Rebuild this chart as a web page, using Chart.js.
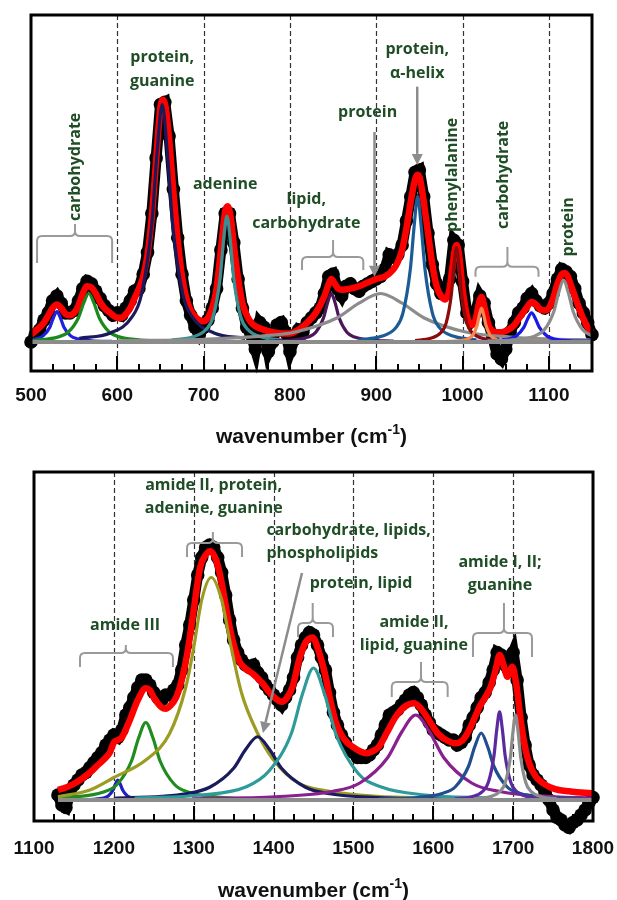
<!DOCTYPE html>
<html><head><meta charset="utf-8">
<script src="https://cdn.jsdelivr.net/npm/chart.js@4/dist/chart.umd.min.js"></script>
<style>
html,body{margin:0;padding:0;background:#fff;}
#wrap{position:relative;width:617px;height:900px;overflow:hidden;}
.box{position:absolute;left:0;width:617px;height:450px;}
</style></head><body>
<div id="wrap">
<div class="box" style="top:0"><canvas id="c1" width="617" height="450"></canvas></div>
<div class="box" style="top:450px"><canvas id="c2" width="617" height="450"></canvas></div>
</div>
<script>
// ---------------- TOP PANEL DATA ----------------
const topRawWN = [500,505,510,515,520,525,530,535,540,545,550,555,560,565,570,575,580,585,590,595,600,605,610,615,620,625,630,635,640,645,650,655,660,665,670,675,680,685,690,695,700,705,710,715,720,725,730,735,740,745,750,755,760,765,770,775,780,785,790,795,800,805,810,815,820,825,830,835,840,845,850,855,860,865,870,875,880,885,890,895,900,905,910,915,920,925,930,935,940,945,950,955,960,965,970,975,980,985,990,995,1000,1005,1010,1015,1020,1025,1030,1035,1040,1045,1050,1055,1060,1065,1070,1075,1080,1085,1090,1095,1100,1105,1110,1115,1120,1125,1130,1135,1140,1145,1150];
const topRaw = [0,3,5,9,12,17,19,16,12,12,
 13,17,22,25,24,21,18,15,13,11,
 12,11,14,17,21,22,28,37,53,76,
 98,99,85,63,43,28,17,11,6,3,
 6,9,14,22,38,53,53,41,26,14,
 6,3,-3,8,6,-4,0,7,8,4,
 -4,1,5,4,8,10,12,14,20,27,
 28,22,19,23,24,22,21,23,24,25,
 26,27,30,36,35,36,40,50,60,70,
 71,60,45,32,24,20,20,26,42,40,
 25,12,9,12,19,16,8,2,-5,-7,
 -3,4,8,12,14,18,20,17,15,14,
 16,20,26,30,29,27,22,16,12,8,
 3];
const topFitWN = [500,505,510,515,520,525,530,535,540,545,550,555,560,565,570,575,580,585,590,595,600,605,610,615,620,625,630,635,640,645,650,653,656,660,665,670,675,680,685,690,695,700,705,710,715,720,725,728,732,735,740,745,750,755,760,770,780,790,800,810,820,830,840,845,848,852,856,860,870,880,890,900,910,920,925,930,935,940,945,948,951,955,960,965,970,975,980,985,988,991,993,996,1000,1005,1010,1015,1019,1022,1025,1030,1035,1040,1045,1050,1055,1060,1065,1070,1075,1080,1085,1090,1095,1100,1105,1110,1115,1118,1122,1125,1130,1135,1140,1145,1150];
const topFit = [3,4.5,6,8,11,14,15.5,14,11.5,11,
 12,15,20,23,22.5,20,16.5,14,12.5,11,
 10,10,11.5,14,18,22,27,36,52,75,
 97,100,97,84,62,42,27,18,13,10.5,
 9,8.5,10,14,22,38,54,56,50,40,
 26,16,11,8,6.5,5,4,3.5,3.5,5,
 8,12,19,24,26,24,22,21.5,22,23,
 24.5,26,27,30,33,38,47,58,67,69,
 67,58,45,32,23,19,17.5,22,30,38,
 40,36,22,11,7,9,16,18.6,15,7,
 4.5,4,4,4.5,5.5,7,9.5,12,14.5,16.5,
 15.5,13.5,13,14,18,24,28,28.5,27,24,
 19,14,9.5,6,4];
const topBaseWN = [500,1150];
const topBase = [0,0];
// component bands (top)
const tB530WN = [500,506,514,522,526,530,534,538,546,554,570,594];
const tB530 = [0.8,1.3,2.5,6.2,10,12.5,10,6.2,2.5,1.3,0.5,0.2];
const tG567WN = [500,507,531,543,555,561,567,573,579,591,603,627,663];
const tG567 = [0.6,0.8,2,4,10,16,20,16,10,4,2,0.8,0.3];
const tN652WN = [556,592,616,628,640,646,652,658,664,676,688,712,748];
const tN652 = [1.5,3.7,9.8,19.6,49,78,98,78,49,19.6,9.8,3.7,1.5];
const tT727WN = [663,687,703,711,719,723,727,731,735,743,751,767,791];
const tT727 = [0.8,2,5.2,10.4,26,41.6,52,41.6,26,10.4,5.2,2,0.8];
const tP848WN = [776,803,821,830,839,843.5,848,852.5,857,866,875,893,920];
const tP848 = [0.3,0.8,2,4,10,16,20,16,10,4,2,0.8,0.3];
const tY905WN = [600,700,780,805,855,880,905,930,955,1005,1055,1100,1150];
const tY905 = [0.5,1.1,2.8,4,10,16,20,16,10,4,2,1.2,0.8];
const tS948WN = [880,906,923,931,939.5,944,948,952,956.5,965,973,990,1016];
const tS948 = [0.9,2.3,6,12,30,48,60,48,30,12,6,2.3,0.9];
const tR993WN = [945,963,975,981,987,990,993,996,999,1005,1011,1023,1041];
const tR993 = [0.6,1.5,3.9,7.8,19.5,31,39,31,19.5,7.8,3.9,1.5,0.6];
const tO1022WN = [982,997,1007,1012,1017,1019.5,1022,1024.5,1027,1032,1037,1047,1100];
const tO1022 = [0.2,0.5,1.4,2.8,7,11.2,14,11.2,7,2.8,1.4,0.5,0.2];
const tB1080WN = [1008,1035,1053,1062,1071,1075.5,1080,1084.5,1089,1098,1107,1125,1150];
const tB1080 = [0.2,0.5,1.2,2.4,6,9.6,12,9.6,6,2.4,1.2,0.5,0.3];
const tY1117WN = [1029,1062,1084,1095,1106,1111.5,1117,1122.5,1128,1139,1150];
const tY1117 = [0.4,1,2.5,5.1,12.8,20.4,25.5,20.4,12.8,5.1,2.5];

// ---------------- BOTTOM PANEL DATA ----------------
const botRawWN = [1130,1135,1140,1145,1150,1155,1160,1165,1170,1175,1180,1185,1190,1195,1200,1205,1210,1215,1220,1225,1230,1235,1240,1245,1250,1255,1260,1265,1270,1275,1280,1285,1290,1295,1300,1305,1310,1315,1320,1325,1330,1335,1340,1345,1350,1355,1360,1365,1370,1375,1380,1385,1390,1395,1400,1405,1410,1415,1420,1425,1430,1435,1440,1445,1450,1455,1460,1465,1470,1475,1480,1485,1490,1495,1500,1505,1510,1515,1520,1525,1530,1535,1540,1545,1550,1555,1560,1565,1570,1575,1580,1585,1590,1595,1600,1605,1610,1615,1620,1625,1630,1635,1640,1645,1650,1655,1660,1665,1670,1675,1680,1685,1690,1695,1700,1705,1710,1715,1720,1725,1730,1735,1740,1745,1750,1755,1760,1765,1770,1775,1780,1785,1790,1795,1800];
const botRaw = [2,-2,-3,3,6,8,10,11,13,15,
 17,19,22,24,26,25,28,34,37,41,
 45,48,48,46,43,41,40,42,42,44,
 46,52,62,70,80,90,97,101,102,101,
 97,91,82,72,64,59,56,54,53,54,
 51,49,46,44,42,40,38,41,44,49,
 57,62,65,67,66,62,57,52,43,35,
 30,26,23,20,19,17,17,17,18,20,
 22,26,30,34,35,36,38,40,42,43,
 41,38,34,31,28,27,26,25,24,24,
 22,23,25,30,33,37,41,43,47,52,
 59,58,54,55,59,48,33,22,14,10,
 8,6,3,0,-4,-7,-8,-10,-11,-9,
 -8,-6,-4,-1,1];
const botFitWN = [1130,1140,1150,1160,1170,1180,1190,1195,1200,1205,1210,1220,1230,1240,1245,1250,1260,1265,1270,1278,1285,1292,1300,1308,1315,1321,1328,1333,1340,1345,1352,1358,1365,1374,1386,1395,1401,1410,1417,1424,1432,1440,1449,1456,1464,1471,1478,1485,1492,1499,1508,1516,1524,1532,1542,1553,1565,1576,1586,1597,1606,1616,1628,1637,1645,1652,1658,1665,1672,1678,1683,1688,1693,1699,1704,1710,1715,1720,1728,1737,1747,1757,1770,1785,1800];
const botFit = [4,5,6.5,8.5,11,14,17,19,23,24,
 25,32,40,44.7,44,41,37,36.5,37.5,41,
 48,58.7,76,93,98,99.5,96,90,78,69,
 60,55,52.5,50.5,46.7,43,41,39.3,41,45.5,
 56,63,65,60,51,40,31,26,23,21.3,
 19.5,18.7,19.5,21.3,27,33.3,37.5,38.7,36,30.7,
 26.5,24,22.7,24,28,33,37.3,41,45.3,52,
 58,54,49.3,53.3,46,30.7,21,14.7,9.5,6.8,
 5,4,3.5,3,2.7];
const botBaseWN = [1130,1800];
const botBase = [0,0];
const bB1205WN = [1157,1175,1187,1193,1199,1202,1205,1208,1211,1217,1223,1235,1253];
const bB1205 = [0.1,0.3,0.8,1.6,4,6.4,8,6.4,4,1.6,0.8,0.3,0.1];
const bG1240WN = [1130,1150,1186,1204,1222,1231,1240,1249,1258,1276,1294,1330,1384];
const bG1240 = [0.8,1.2,3.1,6.2,15.5,24.8,31,24.8,15.5,6.2,3.1,1.2,0.5];
const bO1322WN = [1130,1170,1200,1240,1270,1290,1300,1310,1322,1335,1345,1360,1380,1400,1430,1470,1530,1600];
const bO1322 = [1.3,4,9,16,26.7,45,61,80,89,80,64,42.7,26.7,16,7,3.5,1.5,0.8];
const bN1380WN = [1200,1260,1290,1320,1350,1365,1380,1395,1410,1440,1470,1530,1620];
const bN1380 = [0.7,1.5,2.5,5.1,12.7,20.2,25.3,20.2,12.7,5.1,2.5,1,0.4];
const bT1450WN = [1226,1310,1366,1394,1422,1436,1450,1464,1478,1506,1534,1590,1674];
const bT1450 = [0.8,2,5.3,11.5,26.4,42.2,52.8,42.2,26.4,10.6,5.3,2,0.8];
const bP1578WN = [1298,1403,1473,1508,1543,1560.5,1578,1595.5,1613,1648,1683,1753,1800];
const bP1578 = [0.5,1.3,3.4,6.8,17,27.2,34,27.2,17,6.8,3.4,1.3,0.8];
const bS1660WN = [1532,1580,1612,1628,1644,1652,1660,1668,1676,1692,1708,1740,1788];
const bS1660 = [0.4,1,2.7,5.4,13.4,21.4,26.8,21.4,13.4,5.4,2.7,1,0.4];
const bI1683WN = [1627,1648,1662,1669,1676,1679.5,1683,1686.5,1690,1697,1704,1718,1739];
const bI1683 = [0.5,1.3,3.5,7.1,17.7,28.2,35.3,28.2,17.7,7.1,3.5,1.3,0.5];
const bY1703WN = [1651,1670.5,1683.5,1690,1696.5,1699.75,1703,1706.25,1709.5,1716,1722.5,1735.5,1755];
const bY1703 = [0.5,1.3,3.4,6.8,17,27.2,34,27.2,17,6.8,3.4,1.3,0.5];

// ---------------- helpers ----------------
const pts = (xs, ys) => xs.map((x, i) => ({x, y: ys[i]}));
const comp = (xs, ys, color) => ({data: pts(xs, ys), borderColor: color, borderWidth: 3.2, pointRadius: 0,
  cubicInterpolationMode: 'monotone', fill: false, clip: false});
const GREEN_TXT = '#1f4d25';
const TXT_FONT = 'bold 16px "Open Sans"';

function decorPlugin(cfg) {
  return {
    id: 'decor',
    beforeDatasetsDraw(chart) {
      const {ctx, chartArea: a, scales: {x}} = chart;
      ctx.save();
      ctx.strokeStyle = '#333'; ctx.lineWidth = 1.2; ctx.setLineDash([5, 3]);
      cfg.dashed.forEach(v => {
        const px = Math.round(x.getPixelForValue(v)) + 0.5;
        ctx.beginPath(); ctx.moveTo(px, a.top); ctx.lineTo(px, a.bottom); ctx.stroke();
      });
      ctx.restore();
    },
    afterDatasetsDraw(chart) {
      const {ctx, chartArea: a, scales: {x, y}} = chart;
      ctx.save();
      // inner tick marks
      ctx.strokeStyle = '#000'; ctx.lineWidth = 2;
      x.ticks.forEach(t => {
        const px = Math.round(x.getPixelForValue(t.value));
        const len = (t.value % 100 === 0) ? 15 : 7;
        ctx.beginPath(); ctx.moveTo(px, a.bottom); ctx.lineTo(px, a.bottom - len); ctx.stroke();
      });
      // frame
      ctx.lineWidth = 3; ctx.strokeStyle = '#000';
      ctx.strokeRect(a.left, a.top, a.right - a.left, a.bottom - a.top);
      // brackets
      ctx.strokeStyle = '#9a9a9a'; ctx.lineWidth = 2; ctx.lineJoin = 'round';
      cfg.brackets.forEach(b => {
        const x1 = x.getPixelForValue(b[0]), x2 = x.getPixelForValue(b[1]), xm = x.getPixelForValue(b[2]);
        const yh = y.getPixelForValue(b[3]), ye = y.getPixelForValue(b[4]), yt = y.getPixelForValue(b[5]);
        const r = 5;
        ctx.beginPath();
        ctx.moveTo(x1, ye); ctx.lineTo(x1, yh + r); ctx.quadraticCurveTo(x1, yh, x1 + r, yh);
        ctx.lineTo(xm - r, yh); ctx.quadraticCurveTo(xm, yh, xm, yh - r); ctx.lineTo(xm, yt);
        ctx.moveTo(xm, yh - r); ctx.quadraticCurveTo(xm, yh, xm + r, yh);
        ctx.lineTo(x2 - r, yh); ctx.quadraticCurveTo(x2, yh, x2, yh + r); ctx.lineTo(x2, ye);
        ctx.stroke();
      });
      // arrows
      ctx.strokeStyle = '#8c8c8c'; ctx.fillStyle = '#8c8c8c'; ctx.lineWidth = 2.5;
      cfg.arrows.forEach(ar => {
        const x1 = x.getPixelForValue(ar[0]), y1 = y.getPixelForValue(ar[1]);
        const x2 = x.getPixelForValue(ar[2]), y2 = y.getPixelForValue(ar[3]);
        const ang = Math.atan2(y2 - y1, x2 - x1), hl = 11, hw = 5.5;
        const bx = x2 - hl * Math.cos(ang), by = y2 - hl * Math.sin(ang);
        ctx.beginPath(); ctx.moveTo(x1, y1); ctx.lineTo(bx, by); ctx.stroke();
        ctx.beginPath(); ctx.moveTo(x2, y2);
        ctx.lineTo(bx + hw * Math.sin(ang), by - hw * Math.cos(ang));
        ctx.lineTo(bx - hw * Math.sin(ang), by + hw * Math.cos(ang));
        ctx.closePath(); ctx.fill();
      });
      // labels
      ctx.fillStyle = GREEN_TXT; ctx.font = TXT_FONT; ctx.textBaseline = 'middle';
      cfg.labels.forEach(l => {
        const px = x.getPixelForValue(l.x), py = y.getPixelForValue(l.y);
        const lines = l.t.split('\n');
        ctx.save();
        ctx.translate(px, py);
        if (l.rot) ctx.rotate(-Math.PI / 2);
        ctx.textAlign = l.align || 'center';
        lines.forEach((s, i) => ctx.fillText(s, 0, i * 23.5));
        ctx.restore();
      });
      ctx.restore();
    },
    afterDraw(chart) {
      const {ctx, chartArea: a} = chart;
      ctx.save();
      ctx.fillStyle = '#111'; ctx.textBaseline = 'alphabetic'; ctx.textAlign = 'left';
      const main = 'wavenumber (cm', sup = '-1', end = ')';
      const fMain = 'bold 21px "Liberation Sans"', fSup = 'bold 14px "Liberation Sans"';
      ctx.font = fMain; const w1 = ctx.measureText(main).width, w3 = ctx.measureText(end).width;
      ctx.font = fSup; const w2 = ctx.measureText(sup).width;
      let sx = (a.left + a.right) / 2 - (w1 + w2 + w3) / 2;
      const by = cfg.titleY;
      ctx.font = fMain; ctx.fillText(main, sx, by); sx += w1;
      ctx.font = fSup; ctx.fillText(sup, sx, by - 9); sx += w2;
      ctx.font = fMain; ctx.fillText(end, sx, by);
      ctx.restore();
    }
  };
}

function makeChart(id, xmin, xmax, ymin, ymax, pad, tickPad, datasets, cfg) {
  return new Chart(document.getElementById(id), {
    type: 'line',
    data: {datasets},
    options: {
      responsive: false, animation: false, events: [],
      layout: {padding: pad},
      plugins: {legend: {display: false}, tooltip: {enabled: false}},
      scales: {
        x: {type: 'linear', min: xmin, max: xmax,
          afterFit: s => { s.height = 79; s.paddingLeft = 0; s.paddingRight = 0; },
          grid: {display: false, drawTicks: false}, border: {display: false},
          ticks: {stepSize: 25, autoSkip: false, maxRotation: 0, padding: tickPad, color: '#111',
            font: {family: '"Liberation Sans", Arial', size: 19, weight: 'bold'},
            callback: v => (v % 100 === 0 ? String(v) : '')}},
        y: {display: false, min: ymin, max: ymax}
      }
    },
    plugins: [decorPlugin(cfg)]
  });
}

const raw = (xs, ys) => ({data: pts(xs, ys), borderColor: '#000', borderWidth: 11, pointRadius: 6.8,
  pointBackgroundColor: '#000', pointBorderWidth: 0, tension: 0, clip: false, fill: false});
const fit = (xs, ys) => ({data: pts(xs, ys), borderColor: '#ff0000', borderWidth: 6.5, pointRadius: 0,
  cubicInterpolationMode: 'monotone', clip: false, fill: false});
const base = (xs, ys) => ({data: pts(xs, ys), borderColor: '#8c8c8c', borderWidth: 4, pointRadius: 0, clip: false});

// ---- top chart ----
makeChart('c1', 500, 1150, -12, 135, {left: 31, right: 25, top: 15, bottom: 0}, 13, [
  base(topBaseWN, topBase),
  comp(tY1117WN, tY1117, '#8c8c8c'),
  comp(tB1080WN, tB1080, '#1a1ae6'),
  comp(tO1022WN, tO1022, '#f5874f'),
  comp(tR993WN, tR993, '#8b0a0a'),
  comp(tS948WN, tS948, '#1c5c96'),
  comp(tY905WN, tY905, '#8c8c8c'),
  comp(tP848WN, tP848, '#4a1858'),
  comp(tT727WN, tT727, '#3a9090'),
  comp(tN652WN, tN652, '#1a1a5a'),
  comp(tG567WN, tG567, '#1a8a1a'),
  comp(tB530WN, tB530, '#2020e0'),
  fit(topFitWN, topFit),
  raw(topRawWN, topRaw)
], {
  titleY: 443,
  dashed: [600, 700, 800, 900, 1000, 1100],
  brackets: [[507, 594, 551, 43.7, 32.6, 48.7], [814, 885, 850, 35.1, 29.7, 42.1], [1015, 1088, 1052, 31, 26.9, 39.2]],
  arrows: [[898, 86.7, 898, 26.9], [947.5, 105.4, 947.5, 73.1]],
  labels: [
    {t: 'carbohydrate', x: 551, y: 72.3, rot: true},
    {t: 'protein,\nguanine', x: 652, y: 117.4},
    {t: 'adenine', x: 725, y: 64.9},
    {t: 'lipid,\ncarbohydrate', x: 819, y: 58.7},
    {t: 'protein', x: 890, y: 94.6},
    {t: 'protein,\nα-helix', x: 947.5, y: 120.7},
    {t: 'phenylalanine', x: 988, y: 69, rot: true},
    {t: 'carbohydrate', x: 1047, y: 69, rot: true},
    {t: 'protein', x: 1122.6, y: 47.5, rot: true}
  ]
});

// ---- bottom chart ----
makeChart('c2', 1100, 1800, -8.4, 131.2, {left: 34, right: 24, top: 22, bottom: 0}, 16, [
  base(botBaseWN, botBase),
  comp(bY1703WN, bY1703, '#8c8c8c'),
  comp(bI1683WN, bI1683, '#5b2a9e'),
  comp(bS1660WN, bS1660, '#1f4f8f'),
  comp(bP1578WN, bP1578, '#8a1f8f'),
  comp(bT1450WN, bT1450, '#2e9a9a'),
  comp(bN1380WN, bN1380, '#1a1a5e'),
  comp(bO1322WN, bO1322, '#9c9c22'),
  comp(bG1240WN, bG1240, '#1e8c1e'),
  comp(bB1205WN, bB1205, '#2020c0'),
  fit(botFitWN, botFit),
  raw(botRawWN, botRaw)
], {
  titleY: 447,
  dashed: [1200, 1300, 1400, 1500, 1600, 1700],
  brackets: [[1157.6, 1274, 1215, 58.8, 53.2, 62], [1291.6, 1360.5, 1324, 102.8, 97.2, 107.2],
    [1430.6, 1474.4, 1449, 70.8, 65.2, 78.8], [1548, 1618, 1584.6, 47.2, 41.2, 55.2],
    [1649.7, 1723.6, 1688.5, 66.8, 57.2, 78.8]],
  arrows: [[1435.6, 90.8, 1386.7, 26.8]],
  labels: [
    {t: 'amide III', x: 1214, y: 70},
    {t: 'amide II, protein,\nadenine, guanine', x: 1325, y: 126},
    {t: 'carbohydrate, lipids,\nphospholipids', x: 1391, y: 108, align: 'left'},
    {t: 'protein, lipid', x: 1509.5, y: 86.8},
    {t: 'amide II,\nlipid, guanine', x: 1575.8, y: 71.2},
    {t: 'amide I, II;\nguanine', x: 1683.5, y: 95.2}
  ]
});
</script>
</body></html>
